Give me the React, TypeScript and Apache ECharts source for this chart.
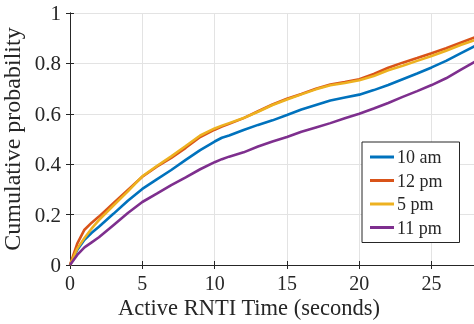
import React, { useEffect, useRef } from "react";
import * as echarts from "echarts";

const times = [0, 0.5, 1, 1.5, 2, 3, 4, 5, 6, 7, 8, 9, 10, 10.5, 11, 12, 13, 14, 15, 16, 17, 18, 19, 20, 21, 22, 23, 24, 25, 26, 27, 28];
const am10 = [0, 0.06, 0.1, 0.128, 0.152, 0.203, 0.255, 0.302, 0.34, 0.377, 0.417, 0.456, 0.49, 0.505, 0.514, 0.536, 0.556, 0.574, 0.595, 0.617, 0.635, 0.653, 0.665, 0.676, 0.694, 0.714, 0.737, 0.76, 0.784, 0.81, 0.84, 0.869];
const pm12 = [0, 0.085, 0.14, 0.168, 0.192, 0.245, 0.298, 0.35, 0.39, 0.425, 0.465, 0.508, 0.537, 0.549, 0.56, 0.583, 0.61, 0.637, 0.66, 0.679, 0.699, 0.716, 0.726, 0.737, 0.758, 0.783, 0.803, 0.821, 0.84, 0.86, 0.882, 0.904];
const pm5 = [0, 0.065, 0.107, 0.145, 0.178, 0.236, 0.292, 0.352, 0.393, 0.431, 0.472, 0.514, 0.542, 0.553, 0.563, 0.583, 0.608, 0.635, 0.657, 0.677, 0.697, 0.713, 0.722, 0.733, 0.75, 0.773, 0.791, 0.81, 0.829, 0.85, 0.873, 0.893];
const pm11 = [0, 0.04, 0.07, 0.09, 0.11, 0.158, 0.206, 0.25, 0.283, 0.317, 0.348, 0.38, 0.408, 0.42, 0.43, 0.447, 0.47, 0.49, 0.508, 0.529, 0.546, 0.563, 0.582, 0.6, 0.621, 0.643, 0.667, 0.69, 0.714, 0.741, 0.774, 0.807];

const seriesNames = ["10 am", "12 pm", "5 pm", "11 pm"];
const seriesValues = [am10, pm12, pm5, pm11];
const colors = ["#0072BD", "#D95319", "#EDB120", "#7E2F8E"];
const xTitle = "Active RNTI Time (seconds)";
const yTitle = "Cumulative probability";

const FONT = "Liberation Serif";
const DARK = "#262626";

export default function App() {
  const ref = useRef<HTMLDivElement>(null);
  useEffect(() => {
    if (!ref.current) return;
    const chart = echarts.init(ref.current, null, { renderer: "svg" });
    const axisCommon = {
      axisLine: { show: true, lineStyle: { color: DARK, width: 1 } },
      axisTick: { show: true, inside: true, length: 4, lineStyle: { color: DARK } },
    };
    chart.setOption({
      animation: false,
      textStyle: { fontFamily: FONT, color: DARK },
      grid: { left: 70, top: 13, width: 405, height: 252, containLabel: false, outerBoundsMode: "none" },
      graphic: [
        {
          type: "text",
          x: 249,
          y: 307,
          style: {
            text: xTitle,
            fontFamily: FONT,
            fontSize: 22.5,
            fill: DARK,
            textAlign: "center",
            textVerticalAlign: "middle",
          },
        },
      ],
      legend: {
        orient: "vertical",
        left: 362,
        top: 142,
        padding: [6, 17, 6, 8],
        itemGap: 5.5,
        itemWidth: 24,
        itemHeight: 3,
        icon: "rect",
        backgroundColor: "#fff",
        borderColor: DARK,
        borderWidth: 1,
        borderRadius: 0,
        textStyle: { fontFamily: FONT, fontSize: 18, color: DARK, padding: [0, 0, 0, -2] },
        data: seriesNames,
      },
      xAxis: [
        {
          type: "value",
          min: 0,
          max: 28,
          interval: 5,
          ...axisCommon,
          axisLabel: { fontFamily: FONT, fontSize: 20, color: DARK, margin: 8, showMaxLabel: false },
          splitLine: { show: true, lineStyle: { color: "#e3e3e3", width: 1 } },
        },
        {
          type: "value",
          position: "top",
          min: 0,
          max: 28,
          interval: 5,
          ...axisCommon,
          axisLabel: { show: false },
          splitLine: { show: false },
        },
      ],
      yAxis: [
        {
          type: "value",
          min: 0,
          max: 1,
          interval: 0.2,
          name: yTitle,
          nameLocation: "middle",
          nameGap: 44,
          nameTextStyle: { fontFamily: FONT, fontSize: 24, color: DARK },
          ...axisCommon,
          axisLabel: { fontFamily: FONT, fontSize: 21, color: DARK, margin: 9 },
          splitLine: { show: true, lineStyle: { color: "#e3e3e3", width: 1 } },
        },
        {
          type: "value",
          position: "right",
          min: 0,
          max: 1,
          interval: 0.2,
          ...axisCommon,
          axisLabel: { show: false },
          splitLine: { show: false },
        },
      ],
      series: seriesNames.map((name, i) => ({
        name,
        type: "line",
        xAxisIndex: 0,
        yAxisIndex: 0,
        data: times.map((t, j) => [t, seriesValues[i][j]]),
        showSymbol: false,
        symbol: "none",
        lineStyle: { color: colors[i], width: 2.6 },
        itemStyle: { color: colors[i] },
      })),
    });
    return () => chart.dispose();
  }, []);
  return (
    <div
      ref={ref}
      style={{ position: "fixed", left: 0, top: 0, width: 474, height: 324 }}
    />
  );
}
